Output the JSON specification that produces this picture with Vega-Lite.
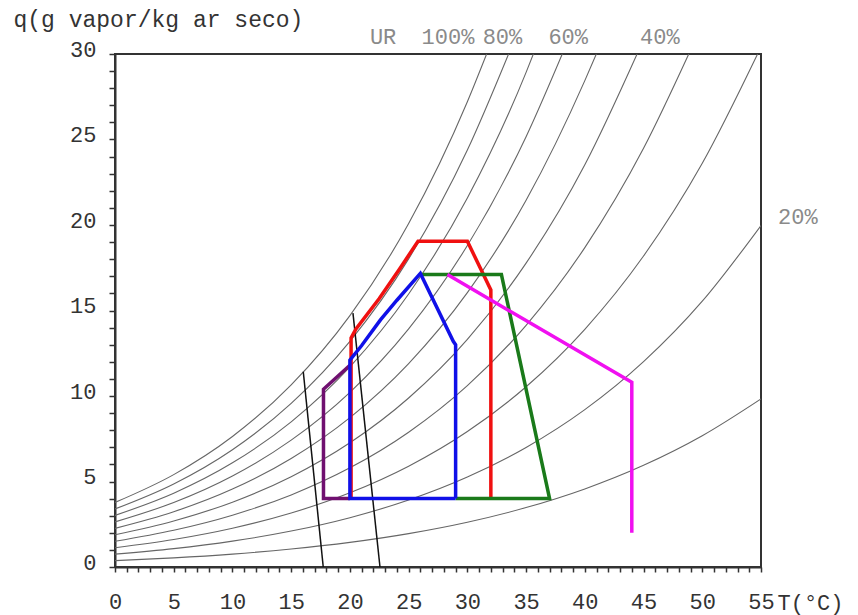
{
  "$schema": "https://vega.github.io/schema/vega-lite/v6.json",
  "autosize": "none",
  "width": 646,
  "height": 513,
  "padding": {"left": 115, "top": 54, "right": 97, "bottom": 48},
  "background": "white",
  "config": {
    "view": {"stroke": "#333", "strokeWidth": 2},
    "font": "Liberation Mono",
    "axis": {
      "labelFont": "Liberation Mono",
      "titleFont": "Liberation Mono",
      "labelFontSize": 22,
      "titleFontSize": 23,
      "labelColor": "#333",
      "titleColor": "#333",
      "titleFontWeight": "normal",
      "domainColor": "#333",
      "domainWidth": 2,
      "tickColor": "#333",
      "tickWidth": 1.5,
      "tickSize": 6,
      "tickCount": 200,
      "format": "d",
      "grid": false,
      "labelOverlap": false,
      "labelFlush": false,
      "labelBound": false
    }
  },
  "datasets": {
    "curves": [
      {"rh": 100, "T": 0, "q": 3.775}, {"rh": 100, "T": 5, "q": 5.403}, {"rh": 100, "T": 10, "q": 7.632}, {"rh": 100, "T": 15, "q": 10.65}, {"rh": 100, "T": 20, "q": 14.699}, {"rh": 100, "T": 25, "q": 20.086}, {"rh": 100, "T": 30, "q": 27.21}, {"rh": 100, "T": 31.64, "q": 30},
      {"rh": 90, "T": 0, "q": 3.396}, {"rh": 90, "T": 5, "q": 4.858}, {"rh": 90, "T": 10, "q": 6.861}, {"rh": 90, "T": 15, "q": 9.568}, {"rh": 90, "T": 20, "q": 13.198}, {"rh": 90, "T": 25, "q": 18.019}, {"rh": 90, "T": 30, "q": 24.382}, {"rh": 90, "T": 33.51, "q": 30},
      {"rh": 80, "T": 0, "q": 3.016}, {"rh": 80, "T": 5, "q": 4.315}, {"rh": 80, "T": 10, "q": 6.091}, {"rh": 80, "T": 15, "q": 8.491}, {"rh": 80, "T": 20, "q": 11.704}, {"rh": 80, "T": 25, "q": 15.966}, {"rh": 80, "T": 30, "q": 21.579}, {"rh": 80, "T": 35, "q": 28.927}, {"rh": 80, "T": 35.62, "q": 30},
      {"rh": 70, "T": 0, "q": 2.638}, {"rh": 70, "T": 5, "q": 3.772}, {"rh": 70, "T": 10, "q": 5.323}, {"rh": 70, "T": 15, "q": 7.417}, {"rh": 70, "T": 20, "q": 10.216}, {"rh": 70, "T": 25, "q": 13.925}, {"rh": 70, "T": 30, "q": 18.8}, {"rh": 70, "T": 35, "q": 25.165}, {"rh": 70, "T": 38.08, "q": 30},
      {"rh": 60, "T": 0, "q": 2.26}, {"rh": 60, "T": 5, "q": 3.231}, {"rh": 60, "T": 10, "q": 4.557}, {"rh": 60, "T": 15, "q": 6.346}, {"rh": 60, "T": 20, "q": 8.737}, {"rh": 60, "T": 25, "q": 11.898}, {"rh": 60, "T": 30, "q": 16.045}, {"rh": 60, "T": 35, "q": 21.446}, {"rh": 60, "T": 40, "q": 28.442}, {"rh": 60, "T": 40.98, "q": 30},
      {"rh": 50, "T": 0, "q": 1.882}, {"rh": 50, "T": 5, "q": 2.69}, {"rh": 50, "T": 10, "q": 3.793}, {"rh": 50, "T": 15, "q": 5.28}, {"rh": 50, "T": 20, "q": 7.264}, {"rh": 50, "T": 25, "q": 9.884}, {"rh": 50, "T": 30, "q": 13.314}, {"rh": 50, "T": 35, "q": 17.77}, {"rh": 50, "T": 40, "q": 23.522}, {"rh": 50, "T": 44.45, "q": 30},
      {"rh": 40, "T": 0, "q": 1.505}, {"rh": 40, "T": 5, "q": 2.15}, {"rh": 40, "T": 10, "q": 3.031}, {"rh": 40, "T": 15, "q": 4.217}, {"rh": 40, "T": 20, "q": 5.798}, {"rh": 40, "T": 25, "q": 7.882}, {"rh": 40, "T": 30, "q": 10.605}, {"rh": 40, "T": 35, "q": 14.135}, {"rh": 40, "T": 40, "q": 18.677}, {"rh": 40, "T": 45, "q": 24.486}, {"rh": 40, "T": 48.85, "q": 30},
      {"rh": 30, "T": 0, "q": 1.128}, {"rh": 30, "T": 5, "q": 1.611}, {"rh": 30, "T": 10, "q": 2.27}, {"rh": 30, "T": 15, "q": 3.157}, {"rh": 30, "T": 20, "q": 4.338}, {"rh": 30, "T": 25, "q": 5.893}, {"rh": 30, "T": 30, "q": 7.92}, {"rh": 30, "T": 35, "q": 10.541}, {"rh": 30, "T": 40, "q": 13.903}, {"rh": 30, "T": 45, "q": 18.186}, {"rh": 30, "T": 50, "q": 23.609}, {"rh": 30, "T": 54.71, "q": 30},
      {"rh": 20, "T": 0, "q": 0.752}, {"rh": 20, "T": 5, "q": 1.073}, {"rh": 20, "T": 10, "q": 1.511}, {"rh": 20, "T": 15, "q": 2.101}, {"rh": 20, "T": 20, "q": 2.885}, {"rh": 20, "T": 25, "q": 3.916}, {"rh": 20, "T": 30, "q": 5.258}, {"rh": 20, "T": 35, "q": 6.988}, {"rh": 20, "T": 40, "q": 9.2}, {"rh": 20, "T": 45, "q": 12.007}, {"rh": 20, "T": 50, "q": 15.542}, {"rh": 20, "T": 55, "q": 19.972},
      {"rh": 10, "T": 0, "q": 0.375}, {"rh": 10, "T": 5, "q": 0.536}, {"rh": 10, "T": 10, "q": 0.755}, {"rh": 10, "T": 15, "q": 1.049}, {"rh": 10, "T": 20, "q": 1.439}, {"rh": 10, "T": 25, "q": 1.952}, {"rh": 10, "T": 30, "q": 2.618}, {"rh": 10, "T": 35, "q": 3.475}, {"rh": 10, "T": 40, "q": 4.566}, {"rh": 10, "T": 45, "q": 5.946}, {"rh": 10, "T": 50, "q": 7.675}, {"rh": 10, "T": 55, "q": 9.828}
    ],
    "blacklines": [
      {"id": 1, "T": 16.03, "q": 11.42}, {"id": 1, "T": 17.73, "q": 0},
      {"id": 2, "T": 20.26, "q": 14.85}, {"id": 2, "T": 22.56, "q": 0}
    ],
    "shapes": [
      {"s": "red", "i": 0, "T": 32, "q": 4}, {"s": "red", "i": 1, "T": 32, "q": 16.2}, {"s": "red", "i": 2, "T": 30, "q": 19.05}, {"s": "red", "i": 3, "T": 25.8, "q": 19.05}, {"s": "red", "i": 4, "T": 24.2, "q": 17.4}, {"s": "red", "i": 5, "T": 22.5, "q": 15.7}, {"s": "red", "i": 6, "T": 20.5, "q": 13.9}, {"s": "red", "i": 7, "T": 20.1, "q": 13.4}, {"s": "red", "i": 8, "T": 20.1, "q": 4},
      {"s": "green", "i": 0, "T": 29, "q": 4}, {"s": "green", "i": 1, "T": 37, "q": 4}, {"s": "green", "i": 2, "T": 32.9, "q": 17.1}, {"s": "green", "i": 3, "T": 26.1, "q": 17.1},
      {"s": "purple", "i": 0, "T": 20, "q": 4}, {"s": "purple", "i": 1, "T": 17.75, "q": 4}, {"s": "purple", "i": 2, "T": 17.75, "q": 10.4}, {"s": "purple", "i": 3, "T": 20, "q": 11.8},
      {"s": "blue", "i": 0, "T": 29, "q": 4}, {"s": "blue", "i": 1, "T": 20, "q": 4}, {"s": "blue", "i": 2, "T": 20, "q": 12.1}, {"s": "blue", "i": 3, "T": 21, "q": 12.95}, {"s": "blue", "i": 4, "T": 22.6, "q": 14.45}, {"s": "blue", "i": 5, "T": 24, "q": 15.6}, {"s": "blue", "i": 6, "T": 26, "q": 17.17}, {"s": "blue", "i": 7, "T": 28.8, "q": 13.2}, {"s": "blue", "i": 8, "T": 29, "q": 13}, {"s": "blue", "i": 9, "T": 29, "q": 4},
      {"s": "magenta", "i": 0, "T": 28.3, "q": 17.1}, {"s": "magenta", "i": 1, "T": 44, "q": 10.8}, {"s": "magenta", "i": 2, "T": 44, "q": 2}
    ],
    "labels": [
      {"t": "UR", "T": 21.7, "q": 31},
      {"t": "100%", "T": 26.1, "q": 31},
      {"t": "80%", "T": 31.3, "q": 31},
      {"t": "60%", "T": 36.9, "q": 31},
      {"t": "40%", "T": 44.7, "q": 31},
      {"t": "20%", "T": 56.45, "q": 20.47}
    ]
  },
  "layer": [
    {
      "data": {"name": "curves"},
      "mark": {"type": "line", "color": "#666", "strokeWidth": 1.1, "interpolate": "monotone", "clip": true},
      "encoding": {
        "x": {"field": "T", "type": "quantitative", "scale": {"domain": [0, 55], "nice": false},
          "axis": {
            "values": [0,1,2,3,4,5,6,7,8,9,10,11,12,13,14,15,16,17,18,19,20,21,22,23,24,25,26,27,28,29,30,31,32,33,34,35,36,37,38,39,40,41,42,43,44,45,46,47,48,49,50,51,52,53,54,55],
            "tickCount": 200,
            "format": "d",
            "labelExpr": "datum.value % 5 === 0 ? datum.label : ''",
            "labelBaseline": "middle",
            "labelPadding": 29,
            "tickSize": 5,
            "title": "T(°C)",
            "titleFontSize": 22,
            "titleAlign": "left",
            "titleBaseline": "middle",
            "titleX": 662,
            "titleY": 35
          }
        },
        "y": {"field": "q", "type": "quantitative", "scale": {"domain": [0, 30], "nice": false},
          "axis": {
            "values": [0,1,2,3,4,5,6,7,8,9,10,11,12,13,14,15,16,17,18,19,20,21,22,23,24,25,26,27,28,29,30],
            "tickCount": 200,
            "format": "d",
            "labelExpr": "datum.value % 5 === 0 ? datum.label : ''",
            "labelPadding": 13,
            "labelOffset": -5,
            "title": "q(g vapor/kg ar seco)",
            "titleAngle": 0,
            "titleAlign": "left",
            "titleBaseline": "middle",
            "titleX": -102,
            "titleY": -35
          }
        },
        "detail": {"field": "rh", "type": "nominal"}
      }
    },
    {
      "data": {"name": "blacklines"},
      "mark": {"type": "line", "color": "#111", "strokeWidth": 1.5},
      "encoding": {
        "x": {"field": "T", "type": "quantitative"},
        "y": {"field": "q", "type": "quantitative"},
        "detail": {"field": "id", "type": "nominal"},
        "order": {"field": "q", "type": "quantitative"}
      }
    },
    {
      "data": {"name": "shapes"},
      "transform": [{"filter": "datum.s === 'red'"}],
      "mark": {"type": "line", "color": "#f01010", "strokeWidth": 3.5, "strokeJoin": "miter"},
      "encoding": {"x": {"field": "T", "type": "quantitative"}, "y": {"field": "q", "type": "quantitative"}, "order": {"field": "i", "type": "quantitative"}}
    },
    {
      "data": {"name": "shapes"},
      "transform": [{"filter": "datum.s === 'green'"}],
      "mark": {"type": "line", "color": "#1a7a1a", "strokeWidth": 3.5, "strokeJoin": "miter"},
      "encoding": {"x": {"field": "T", "type": "quantitative"}, "y": {"field": "q", "type": "quantitative"}, "order": {"field": "i", "type": "quantitative"}}
    },
    {
      "data": {"name": "shapes"},
      "transform": [{"filter": "datum.s === 'purple'"}],
      "mark": {"type": "line", "color": "#701070", "strokeWidth": 3.5, "strokeJoin": "miter"},
      "encoding": {"x": {"field": "T", "type": "quantitative"}, "y": {"field": "q", "type": "quantitative"}, "order": {"field": "i", "type": "quantitative"}}
    },
    {
      "data": {"name": "shapes"},
      "transform": [{"filter": "datum.s === 'blue'"}],
      "mark": {"type": "line", "color": "#1010e8", "strokeWidth": 3.5, "strokeJoin": "miter"},
      "encoding": {"x": {"field": "T", "type": "quantitative"}, "y": {"field": "q", "type": "quantitative"}, "order": {"field": "i", "type": "quantitative"}}
    },
    {
      "data": {"name": "shapes"},
      "transform": [{"filter": "datum.s === 'magenta'"}],
      "mark": {"type": "line", "color": "#f010f0", "strokeWidth": 3.5, "strokeJoin": "miter"},
      "encoding": {"x": {"field": "T", "type": "quantitative"}, "y": {"field": "q", "type": "quantitative"}, "order": {"field": "i", "type": "quantitative"}}
    },
    {
      "data": {"name": "labels"},
      "mark": {"type": "text", "align": "left", "baseline": "middle", "font": "Liberation Mono", "fontSize": 22, "color": "#8a8a8a", "clip": false},
      "encoding": {
        "x": {"field": "T", "type": "quantitative"},
        "y": {"field": "q", "type": "quantitative"},
        "text": {"field": "t", "type": "nominal"}
      }
    }
  ]
}
